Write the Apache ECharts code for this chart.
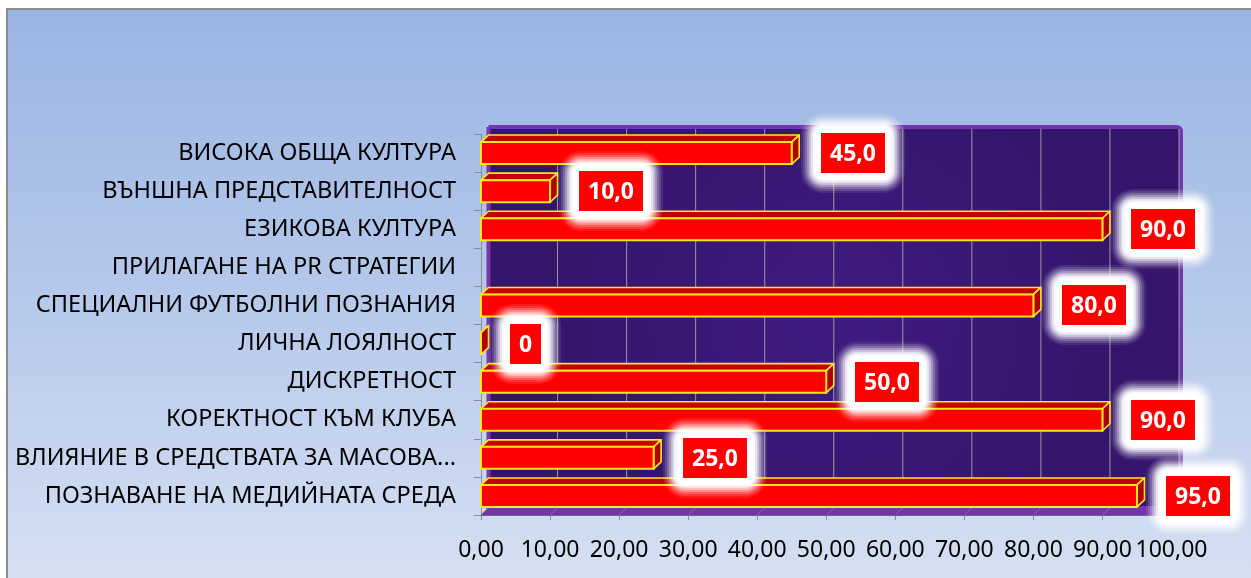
<!DOCTYPE html>
<html>
<head>
<meta charset="utf-8">
<script src="https://cdn.jsdelivr.net/npm/echarts@6/dist/echarts.min.js"></script>
<style>
  html, body { margin: 0; padding: 0; background: #ffffff; }
  #chart { width: 1251px; height: 578px; }
</style>
</head>
<body>
<div id="chart"></div>
<script>
// Categories, top to bottom
const categories = [
  'ВИСОКА ОБЩА КУЛТУРА',
  'ВЪНШНА ПРЕДСТАВИТЕЛНОСТ',
  'ЕЗИКОВА КУЛТУРА',
  'ПРИЛАГАНЕ НА PR СТРАТЕГИИ',
  'СПЕЦИАЛНИ ФУТБОЛНИ ПОЗНАНИЯ',
  'ЛИЧНА ЛОЯЛНОСТ',
  'ДИСКРЕТНОСТ',
  'КОРЕКТНОСТ КЪМ КЛУБА',
  'ВЛИЯНИЕ В СРЕДСТВАТА ЗА МАСОВА...',
  'ПОЗНАВАНЕ НА МЕДИЙНАТА СРЕДА'
];
// Percentages per category (null = no answer given)
const values = [45, 10, 90, null, 80, 0, 50, 90, 25, 95];
// Value axis range and step
const axisMin = 0;
const axisMax = 100;
const axisStep = 10;

const DEPTH_X = 7.5;
const DEPTH_Y = -7;
const BAR_H = 22;

const LABEL_FONT = 'bold 23px "Noto Sans"';
const LABEL_GAP = 29;
const LABEL_PAD_X = 9;
const LABEL_H = 40;
// halo rings around each value box: [outset px, opacity], outermost first
const HALO_RINGS = [[20, 0.08], [18, 0.12], [16, 0.16], [14, 0.24], [12, 0.32], [10, 0.45], [8, 0.6], [6, 1]];

function fmtValue(v) {
  return v === 0 ? '0' : v.toFixed(1).replace('.', ',');
}
function fmtTick(v) {
  return v.toFixed(2).replace('.', ',');
}

// text width helper for sizing the value boxes
const measureCtx = document.createElement('canvas').getContext('2d');
function textWidth(str) {
  measureCtx.font = LABEL_FONT;
  return measureCtx.measureText(str).width;
}

const chart = echarts.init(document.getElementById('chart'), null, { renderer: 'canvas' });

// Back wall, floor and gridlines of the 3D plot box
function renderWall(params, api) {
  const cs = params.coordSys;
  const x0 = cs.x, y0 = cs.y, w = cs.width, h = cs.height;
  const children = [];
  children.push({
    type: 'polygon',
    shape: { points: [[x0, y0 + h], [x0 + w, y0 + h], [x0 + w + DEPTH_X, y0 + h + DEPTH_Y], [x0 + DEPTH_X, y0 + h + DEPTH_Y]] },
    style: { fill: '#7434a8', stroke: '#6a2c9c', lineWidth: 1 }
  });
  children.push({
    type: 'rect',
    shape: { x: x0 + DEPTH_X, y: y0 + DEPTH_Y, width: w + 2, height: h, r: [0, 4, 0, 0] },
    style: {
      fill: {
        type: 'radial', x: 0.5, y: 0.5, r: 0.75,
        colorStops: [
          { offset: 0, color: '#3f1b80' },
          { offset: 1, color: '#34146c' }
        ]
      },
      stroke: '#7436ac',
      lineWidth: 4
    }
  });
  for (let v = axisMin + axisStep; v <= axisMax; v += axisStep) {
    const px = api.coord([v, 0])[0];
    children.push({
      type: 'line',
      shape: { x1: px + DEPTH_X, y1: y0 + DEPTH_Y + 2, x2: px + DEPTH_X, y2: y0 + h + DEPTH_Y },
      style: { stroke: '#9a9a9a', lineWidth: 1 }
    });
  }
  for (let v = axisMin; v <= axisMax; v += axisStep) {
    const px = api.coord([v, 0])[0];
    children.push({
      type: 'line',
      shape: { x1: px, y1: y0 + h, x2: px + DEPTH_X, y2: y0 + h + DEPTH_Y },
      style: { stroke: '#8a6aa8', lineWidth: 1 }
    });
  }
  return { type: 'group', children: children, silent: true };
}

// 3D bar: top face, right face and front face
function renderBar(params, api) {
  const v = api.value(0);
  const idx = api.value(1);
  if (v == null || isNaN(v)) return null;
  const p0 = api.coord([axisMin, idx]);
  const p1 = api.coord([v, idx]);
  const yTop = p0[1] - BAR_H / 2;
  const x0 = p0[0], x1 = p1[0];
  const edge = '#ffe81a';
  return {
    type: 'group',
    children: [
      {
        type: 'polygon',
        shape: { points: [[x0, yTop], [x1, yTop], [x1 + DEPTH_X, yTop + DEPTH_Y], [x0 + DEPTH_X, yTop + DEPTH_Y]] },
        style: { fill: '#c40000', stroke: edge, lineWidth: 1.6, lineJoin: 'round' }
      },
      {
        type: 'polygon',
        shape: { points: [[x1, yTop], [x1 + DEPTH_X, yTop + DEPTH_Y], [x1 + DEPTH_X, yTop + BAR_H + DEPTH_Y], [x1, yTop + BAR_H]] },
        style: { fill: '#b00000', stroke: edge, lineWidth: 1.6, lineJoin: 'round' }
      },
      {
        type: 'rect',
        shape: { x: x0, y: yTop, width: x1 - x0, height: BAR_H },
        style: { fill: '#ff0000', stroke: edge, lineWidth: 2 }
      }
    ]
  };
}

// Value box: soft white halo, red box, white bold text
function renderLabel(params, api) {
  const v = api.value(0);
  const idx = api.value(1);
  if (v == null || isNaN(v)) return null;
  const p1 = api.coord([v, idx]);
  const txt = fmtValue(v);
  const bw = Math.round(textWidth(txt) + LABEL_PAD_X * 2);
  const bx = Math.round(p1[0] + LABEL_GAP);
  const by = Math.round(p1[1] - LABEL_H / 2);
  const children = HALO_RINGS.map(([e, a]) => ({
    type: 'rect',
    shape: { x: bx - e, y: by - e, width: bw + e * 2, height: LABEL_H + e * 2, r: e + 2 },
    style: { fill: 'rgba(255,255,255,' + a + ')', shadowColor: 'rgba(255,255,255,' + a + ')', shadowBlur: 3 }
  }));
  children.push({
    type: 'rect',
    shape: { x: bx, y: by, width: bw, height: LABEL_H },
    style: { fill: '#ff0000' }
  });
  children.push({
    type: 'text',
    style: {
      text: txt,
      x: bx + bw / 2,
      y: by + LABEL_H / 2 + 1,
      fill: '#ffffff',
      font: LABEL_FONT,
      align: 'center',
      verticalAlign: 'middle',
      textAlign: 'center',
      textVerticalAlign: 'middle'
    }
  });
  return { type: 'group', children: children };
}

const barData = values.map((v, i) => [v, i]);

const option = {
  backgroundColor: '#ffffff',
  animation: false,
  graphic: [{
    type: 'rect',
    z: -10,
    silent: true,
    shape: { x: 7, y: 9, width: 1300, height: 640 },
    style: {
      fill: {
        type: 'linear', x: 0, y: 0, x2: 0, y2: 1, global: false,
        colorStops: [
          { offset: 0, color: '#9ab4e3' },
          { offset: 0.5, color: '#b9cbec' },
          { offset: 1, color: '#dde5f4' }
        ]
      },
      stroke: '#8c8c8c',
      lineWidth: 2
    }
  }],
  grid: { left: 481, right: 79.5, top: 134, bottom: 63, containLabel: false },
  xAxis: {
    type: 'value',
    min: axisMin,
    max: axisMax,
    interval: axisStep,
    axisLine: { show: true, lineStyle: { color: '#8c8c8c', width: 1 } },
    axisTick: { show: true, length: 5, lineStyle: { color: '#8c8c8c' } },
    splitLine: { show: false },
    axisLabel: {
      formatter: fmtTick,
      margin: 24,
      color: '#000000',
      fontFamily: 'Noto Sans',
      fontSize: 23,
      hideOverlap: false
    }
  },
  yAxis: {
    type: 'category',
    inverse: true,
    data: categories,
    axisLine: { show: true, lineStyle: { color: '#8c8c8c', width: 1 } },
    axisTick: { show: true, length: 7, lineStyle: { color: '#8c8c8c' } },
    axisLabel: {
      margin: 25,
      color: '#000000',
      fontFamily: 'Noto Sans',
      fontSize: 23.5,
      interval: 0
    }
  },
  series: [
    {
      type: 'custom',
      name: 'wall',
      renderItem: renderWall,
      data: [[0, 0]],
      encode: { x: 0, y: 1 },
      clip: false,
      z: 1,
      silent: true
    },
    {
      type: 'custom',
      name: 'bars',
      renderItem: renderBar,
      data: barData,
      encode: { x: 0, y: 1 },
      clip: false,
      z: 2,
      silent: true
    },
    {
      type: 'custom',
      name: 'labels',
      renderItem: renderLabel,
      data: barData,
      encode: { x: 0, y: 1 },
      clip: false,
      z: 5,
      silent: true
    }
  ]
};

chart.setOption(option);
</script>
</body>
</html>
